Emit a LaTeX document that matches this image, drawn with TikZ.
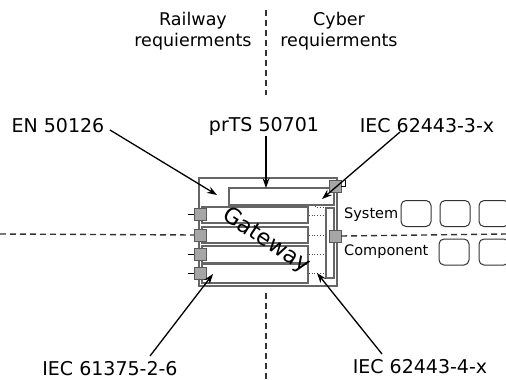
\documentclass[tikz,border=0pt]{standalone}
\usepackage{fontspec}
\setmainfont{DejaVu Sans}
\usetikzlibrary{arrows.meta}

\tikzset{
  lbl/.style={font=\fontsize{19}{22}\selectfont, inner sep=1pt},
  hdr/.style={font=\fontsize{17.5}{21}\selectfont, align=center, inner sep=0pt},
  lvl/.style={font=\fontsize{14.5}{17}\selectfont, inner sep=0pt, anchor=west},
  part/.style={draw=gray!80!black, line width=1.2pt, inner sep=0pt},
  port/.style={draw=gray!70!black, fill=gray!70, minimum size=12pt, inner sep=0pt},
  slot/.style={draw=gray!40!black, rounded corners=5pt, line width=1pt,
    minimum width=30pt, minimum height=26pt, inner sep=0pt},
  split/.style={dash pattern=on 6pt off 4pt, line width=1.4pt, black!80},
  link/.style={dotted, gray!60!black, line width=0.9pt},
  req/.style={->, line width=1.3pt}
}

\begin{document}
\begin{tikzpicture}[x=1pt,y=-1pt,>={Stealth[length=10pt,width=7pt]}]
	  \useasboundingbox (0,0) rectangle (506,380);
	  \clip (0,0) rectangle (506,380);
	  % gateway
	  \node[part, minimum width=138pt, minimum height=108pt] (gw) at (268,232) {};
	  \node[part, minimum width=105pt, minimum height=17pt] (top) at (281.5,196.5) {};
	  \node[part, minimum width=106pt, minimum height=16pt] (r1) at (255,215) {};
	  \node[part, minimum width=106pt, minimum height=16pt] (r2) at (255,235) {};
	  \node[part, minimum width=106pt, minimum height=17pt] (r3) at (255,254.5) {};
	  \node[part, minimum width=106pt, minimum height=19pt] (r4) at (255,273.5) {};
	  \node[part, minimum width=8pt, minimum height=70pt] (bus) at (330,243) {};
	  \foreach \r in {r1,r2,r3,r4}
	    \draw[link] (\r.east) -- (\r.east -| bus.west);
	  \draw[link] ([xshift=-19pt]top.south east) |- (bus.north west);
	  \node[port] (p1) at (200,214) {};
	  \node[port] (p2) at (200,235) {};
	  \node[port] (p3) at (200,254) {};
	  \node[port] (p4) at (200,273) {};
	  \node[port] (pb) at (335,236) {};
	  \node[port] (pt) at (335,186) {};
	  \foreach \p in {p1,p3,p4}
	    \draw[line width=1pt] (\p.west) -- ++(-6,0);
	  \draw[line width=1pt] (pt.east) -- ++(4,0) -- ++(0,-6);
	  \node[rotate=-33, font=\fontsize{22.5}{26}\selectfont] (gwl) at (266,241) {Gateway};
	  % split lines
	  \draw[split] (266,10) -- (266,95);
	  \draw[split] (266,293) -- (266,380);
	  \draw[split] (0,234) -- (p2.west);
	  \draw[split] (pb.east) -- (506,234);
	  \node[hdr] (rw) at (193,31) {Railway\\requierments};
	  \node[hdr] (cy) at (339,31) {Cyber\\requierments};
	  % levels
	  \node[lvl] (sys) at (344,215) {System};
	  \node[lvl] (cmp) at (344,252) {Component};
	  \node[slot] (s1) at (416,213.5) {};
	  \node[slot] (s2) at (455,213.5) {};
	  \node[slot] (s3) at (494,213.5) {};
	  \node[slot] (c1) at (454,252) {};
	  \node[slot] (c2) at (494,252) {};
	  % standards
	  \node[lbl] (en) at (58,126) {EN 50126};
	  \node[lbl] (pr) at (264,126) {prTS 50701};
	  \node[lbl] (ic3) at (427,126) {IEC 62443-3-x};
	  \node[lbl] (ic2) at (110,369) {IEC 61375-2-6};
	  \node[lbl] (ic4) at (420,367) {IEC 62443-4-x};
	  \coordinate (a1) at (110,130);
	  \coordinate (t1) at (217,195);
	  \coordinate (t2) at (266,188);
	  \coordinate (a3) at (400,132);
	  \coordinate (t3) at (322,199);
	  \coordinate (a4) at (150,356);
	  \coordinate (t4) at (213,274);
	  \coordinate (a5) at (382,354);
	  \coordinate (t5) at (317,273);
	  \draw[req] (a1) -- (t1);
	  \draw[req] (pr.south -| t2) -- (t2);
	  \draw[req] (a3) -- (t3);
	  \draw[req] (a4) -- (t4);
	  \draw[req] (a5) -- (t5);
	\end{tikzpicture}
\end{document}
